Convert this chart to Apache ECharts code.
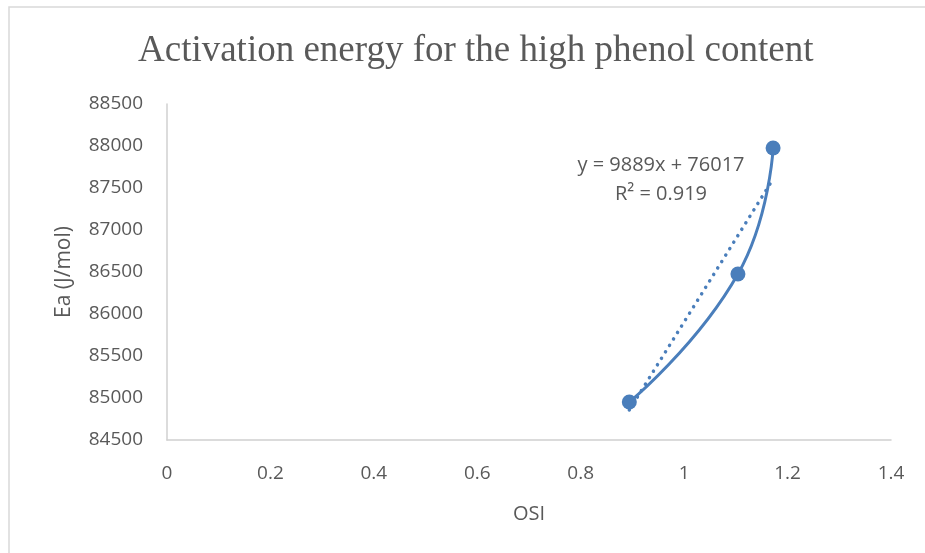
<!DOCTYPE html>
<html>
<head>
<meta charset="utf-8">
<script src="https://cdn.jsdelivr.net/npm/echarts@6/dist/echarts.min.js"></script>
<style>html,body{margin:0;padding:0;background:#fff;}#c{width:925px;height:553px;}</style>
</head>
<body>
<div id="c"></div>
<script>
const osi = [0.894, 1.104, 1.172];
const ea = [84952, 86476, 87976];
const trendSlope = 9889;
const trendIntercept = 76017;
const trendText = ['y = 9889x + 76017', 'R² = 0.919'];
const titleText = 'Activation energy for the high phenol content';
const xName = 'OSI';
const yName = 'Ea (J/mol)';

const pts = osi.map((x, i) => [x, ea[i]]);
const xMin = Math.min(...osi), xMax = Math.max(...osi);
const trend = [[xMin, trendSlope * xMin + trendIntercept], [xMax, trendSlope * xMax + trendIntercept]];
const blue = '#4a7ebb';
const gray = '#595959';
const sans = 'Open Sans';

const chart = echarts.init(document.getElementById('c'));
chart.setOption({
  backgroundColor: '#fff',
  animation: false,
  title: {
    text: titleText, left: 133, top: 28,
    textStyle: { fontFamily: 'Liberation Serif', fontSize: 37, fontWeight: 'normal', color: gray }
  },
  grid: { left: 167, top: 104, right: 34, bottom: 113 },
  xAxis: {
    type: 'value', min: 0, max: 1.4, interval: 0.2,
    name: xName, nameLocation: 'middle', nameGap: 64,
    nameTextStyle: { fontFamily: sans, fontSize: 20, color: gray },
    axisLine: { show: true, lineStyle: { color: '#d0d0d0', width: 1.5 } },
    axisTick: { show: false },
    splitLine: { show: false },
    axisLabel: { fontFamily: sans, fontSize: 19, color: gray, margin: 24,
      formatter: v => String(Math.round(v * 10) / 10) }
  },
  yAxis: {
    type: 'value', min: 84500, max: 88500, interval: 500,
    name: yName, nameLocation: 'middle', nameGap: 92, nameRotate: 90,
    nameTextStyle: { fontFamily: sans, fontSize: 21, color: gray },
    axisLine: { show: true, lineStyle: { color: '#d0d0d0', width: 1.5 } },
    axisTick: { show: false },
    splitLine: { show: false },
    axisLabel: { fontFamily: sans, fontSize: 19, color: gray, margin: 24,
      formatter: v => String(v) }
  },
  graphic: [
    { type: 'rect', shape: { x: 9, y: 7, width: 1000, height: 1000 },
      style: { fill: 'none', stroke: '#d9d9d9', lineWidth: 1.5 }, silent: true, z: -1 },
    { type: 'text', x: 661, y: 151,
      style: { text: trendText[0] + '\n' + trendText[1], textAlign: 'center', align: 'center',
        fontFamily: sans, fontSize: 20, lineHeight: 29, fill: gray } }
  ],
  series: [
    { type: 'line', data: trend, symbol: 'none', z: 2,
      lineStyle: { color: blue, width: 3.5, type: [0.1, 7.5], cap: 'round' } },
    { type: 'line', data: pts, smooth: 0.5, symbol: 'circle', symbolSize: 15, z: 3,
      itemStyle: { color: blue }, lineStyle: { color: blue, width: 3 } }
  ]
});
</script>
</body>
</html>
